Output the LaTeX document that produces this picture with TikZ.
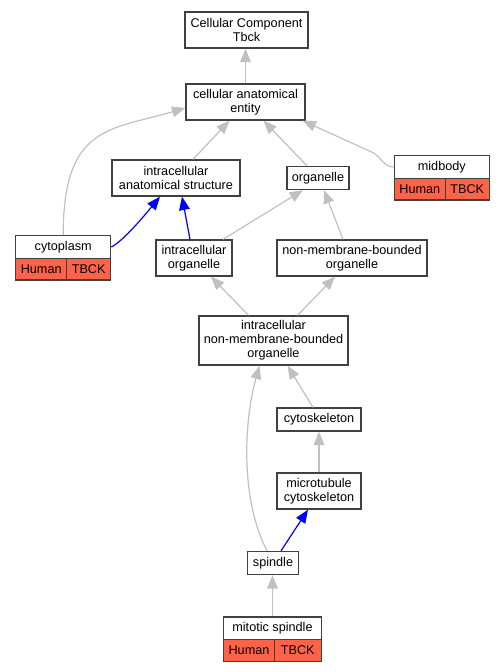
\documentclass[tikz,border=0pt]{standalone}
\usepackage{fontspec}
\setmainfont{Liberation Sans}
\usetikzlibrary{arrows.meta,calc}
\definecolor{edgegray}{RGB}{192,192,192}
\definecolor{edgeblue}{RGB}{0,0,255}
\definecolor{tomatofill}{RGB}{255,99,71}
\definecolor{boxline}{RGB}{64,64,64}
\begin{document}
\begin{tikzpicture}[x=0.75pt,y=-0.75pt,
  box/.style={draw=boxline,line width=1pt,fill=white,inner sep=0pt,align=center,
    font=\fontsize{9.5}{10.5}\selectfont},
  redcell/.style={box,fill=tomatofill},
  ge/.style={draw=edgegray,line width=0.9pt,-{Triangle[length=10pt,width=8pt]}},
  be/.style={draw=edgeblue,line width=0.9pt,-{Triangle[length=10pt,width=8pt]}}]
\useasboundingbox (0,0) rectangle (504,672);
% plain nodes
\node[box,minimum width={123*0.75pt},minimum height={36*0.75pt}] (cc) at (246.5,30) {Cellular Component\\Tbck};
\node[box,minimum width={119*0.75pt},minimum height={36*0.75pt}] (cae) at (245.5,102) {cellular anatomical\\entity};
\node[box,minimum width={128*0.75pt},minimum height={36*0.75pt}] (ias) at (176,178) {intracellular\\anatomical structure};
\node[box,minimum width={62*0.75pt},minimum height={23*0.75pt}] (org) at (318,178) {organelle};
\node[box,minimum width={76*0.75pt},minimum height={36*0.75pt}] (io) at (194,258) {intracellular\\organelle};
\node[box,minimum width={150*0.75pt},minimum height={36*0.75pt}] (nmbo) at (352,258) {non-membrane-bounded\\organelle};
\node[box,minimum width={149*0.75pt},minimum height={49*0.75pt}] (inmbo) at (273.5,340.5) {intracellular\\non-membrane-bounded\\organelle};
\node[box,minimum width={84*0.75pt},minimum height={23*0.75pt}] (csk) at (319,419.5) {cytoskeleton};
\node[box,minimum width={84*0.75pt},minimum height={36*0.75pt}] (mt) at (319,491) {microtubule\\cytoskeleton};
\node[box,minimum width={51*0.75pt},minimum height={23*0.75pt}] (spn) at (273,563) {spindle};
% table nodes
\node[box,minimum width={95*0.75pt},minimum height={22.6*0.75pt}] (midt) at (441.8,167) {midbody};
\node[redcell,minimum width={51*0.75pt},minimum height={21.7*0.75pt}] (midh) at (419.8,189.2) {Human};
\node[redcell,minimum width={44*0.75pt},minimum height={21.7*0.75pt}] (midg) at (467.3,189.2) {TBCK};
\node[box,minimum width={95*0.75pt},minimum height={22.6*0.75pt}] (cytt) at (63.2,247) {cytoplasm};
\node[redcell,minimum width={51*0.75pt},minimum height={21.7*0.75pt}] (cyth) at (41.2,269.2) {Human};
\node[redcell,minimum width={44*0.75pt},minimum height={21.7*0.75pt}] (cytg) at (88.7,269.2) {TBCK};
\node[box,minimum width={97.6*0.75pt},minimum height={22.3*0.75pt}] (mst) at (272.5,628.2) {mitotic spindle};
\node[redcell,minimum width={50.6*0.75pt},minimum height={22.4*0.75pt}] (msh) at (249,650.5) {Human};
\node[redcell,minimum width={47*0.75pt},minimum height={22.4*0.75pt}] (msg) at (297.8,650.5) {TBCK};
% edges
\draw[ge] (cae.north) -- (cae.north |- cc.south);
\draw[ge] ($(ias.north)+(17,0)$) -- ($(cae.south)+(-16,0)$);
\draw[ge] ($(org.north)+(-11,0)$) -- ($(cae.south)+(18,0)$);
\draw[ge] (midt.west) .. controls ($(midt.west)+(-10,0)$) and ($(midt.west)+(-13,-11)$) .. ($(midt.west)+(-22,-15)$) -- ($(cae.south east)+(-3,0)$);
\draw[ge] (cytt.north) .. controls ($(cytt.north)+(0,-110)$) and ($(cae.west)+(-75,28)$) .. ($(cae.west)+(0,6)$);
\draw[be] (cytt.east) .. controls ($(cytt.east)+(12,-6)$) and ($(ias.south)+(-30,17)$) .. ($(ias.south)+(-16,0)$);
\draw[be] ($(io.north)+(-4,0)$) -- ($(ias.south)+(6,0)$);
\draw[ge] ($(io.north)+(29,0)$) -- ($(org.south)+(-15,0)$);
\draw[ge] ($(nmbo.north)+(-9,0)$) -- ($(org.south)+(6,0)$);
\draw[ge] ($(inmbo.north)+(-25,0)$) -- ($(io.south)+(17,0)$);
\draw[ge] ($(inmbo.north)+(24,0)$) -- ($(nmbo.south)+(-17,0)$);
\draw[ge] ($(csk.north)+(-6,0)$) -- ($(inmbo.south)+(14,0)$);
\draw[ge] ($(spn.north)+(-6,0)$) .. controls ($(spn.north)+(-33,-52)$) and ($(inmbo.south)+(-29.5,55)$) .. ($(inmbo.south)+(-14,0)$);
\draw[ge] (mt.north) -- (csk.south);
\draw[be] ($(spn.north)+(8,0)$) -- ($(mt.south)+(-11,0)$);
\draw[ge] (mst.north) -- (mst.north |- spn.south);
\end{tikzpicture}
\end{document}
